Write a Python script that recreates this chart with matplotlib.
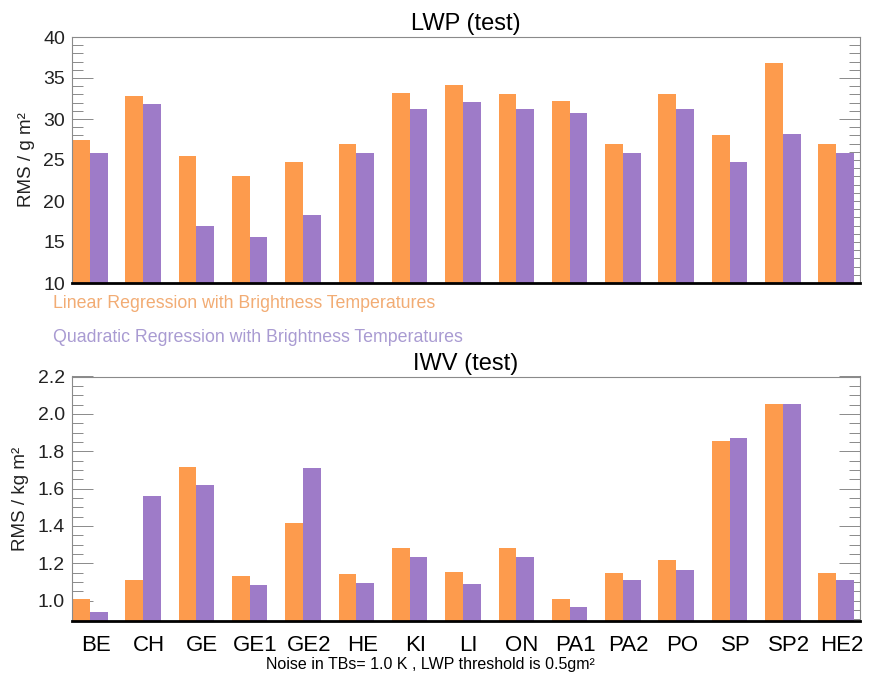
import matplotlib
matplotlib.use("Agg")
import matplotlib.pyplot as plt
import numpy as np
from matplotlib.ticker import MultipleLocator, FixedLocator

plt.rcParams['font.family'] = ['Liberation Sans', 'DejaVu Sans']

stations = ["BE", "CH", "GE", "GE1", "GE2", "HE", "KI", "LI", "ON", "PA1", "PA2", "PO", "SP", "SP2", "HE2"]

lwp_linear = [27.4, 32.8, 25.5, 23.0, 24.8, 26.9, 33.2, 34.2, 33.1, 32.2, 26.9, 33.0, 28.1, 36.85, 26.9]
lwp_quadratic = [25.9, 31.85, 16.9, 15.6, 18.35, 25.8, 31.2, 32.1, 31.2, 30.7, 25.8, 31.2, 24.8, 28.2, 25.8]

iwv_linear = [1.007, 1.11, 1.716, 1.13, 1.415, 1.141, 1.281, 1.156, 1.281, 1.011, 1.15, 1.218, 1.855, 2.054, 1.15]
iwv_quadratic = [0.94, 1.558, 1.617, 1.082, 1.71, 1.097, 1.234, 1.089, 1.234, 0.966, 1.109, 1.166, 1.871, 2.054, 1.109]

orange = '#FD9B4D'
purple = '#9E7BC8'
orange_txt = '#F2AC74'
purple_txt = '#A99BD2'

W, H = 872, 675
fig = plt.figure(figsize=(W / 100, H / 100), dpi=100)

def px_axes(left, top, right, bottom):
    return fig.add_axes([left / W, 1 - bottom / H, (right - left) / W, (bottom - top) / H])

ax1 = px_axes(72, 37, 860, 283)
ax2 = px_axes(72, 376.5, 860, 620.7)

x = np.arange(len(stations))
bw = 1 / 3.0
label_shift = 0.11

def draw(ax, lin, quad, ylim, major, minor, fmt, ylabel, title, show_labels):
    ax.bar(x, lin, width=bw, align='edge', color=orange, edgecolor='none', zorder=2)
    ax.bar(x + bw, quad, width=bw, align='edge', color=purple, edgecolor='none', zorder=2)
    ax.set_xlim(0, 14.78)
    ax.set_ylim(*ylim)
    for s in ['top', 'left', 'right']:
        ax.spines[s].set_color('#8a8a8a')
        ax.spines[s].set_linewidth(0.8)
    ax.spines['bottom'].set_color('black')
    ax.spines['bottom'].set_linewidth(2.0)
    ax.spines['bottom'].set_zorder(5)
    ax.yaxis.set_major_locator(MultipleLocator(major))
    ax.yaxis.set_minor_locator(MultipleLocator(minor))
    ax.yaxis.set_major_formatter(matplotlib.ticker.FormatStrFormatter(fmt))
    ax.tick_params(axis='y', which='major', direction='in', length=15, width=0.7,
                   color='#8a8a8a', left=True, right=True, labelsize=14, pad=5,
                   labelcolor='#222222')
    ax.tick_params(axis='y', which='minor', direction='in', length=8, width=0.7,
                   color='#8a8a8a', left=True, right=True)
    centers = np.concatenate([x + bw / 2, x + 1.5 * bw])
    ax.xaxis.set_minor_locator(FixedLocator(centers))
    ax.tick_params(axis='x', which='minor', direction='in', length=4, width=0.8,
                   color='#555555', top=False, bottom=True)
    ax.set_xticks(x + bw + label_shift)
    if show_labels:
        ax.set_xticklabels(stations, fontsize=16)
    else:
        ax.set_xticklabels([])
    ax.tick_params(axis='x', which='major', length=0, pad=10, labelcolor='black')
    ax.set_ylabel(ylabel, fontsize=13.5, labelpad=6, color='#222222')
    ax.set_title(title, fontsize=17, pad=5)

draw(ax1, lwp_linear, lwp_quadratic, (10, 40), 5, 1, '%d', 'RMS / g m²', 'LWP (test)', False)
draw(ax2, iwv_linear, iwv_quadratic, (0.893, 2.2), 0.2, 0.05, '%.1f', 'RMS / kg m²', 'IWV (test)', True)

fig.text(53 / W, 1 - 303 / H, 'Linear Regression with Brightness Temperatures',
         color=orange_txt, fontsize=12.8, ha='left', va='center')
fig.text(53 / W, 1 - 338 / H, 'Quadratic Regression with Brightness Temperatures',
         color=purple_txt, fontsize=12.8, ha='left', va='center')
fig.text(430 / W, 1 - 664 / H, 'Noise in TBs= 1.0 K , LWP threshold is 0.5gm²',
         fontsize=11.5, ha='center', va='center')

fig.savefig('out.png', dpi=100, facecolor='white')
